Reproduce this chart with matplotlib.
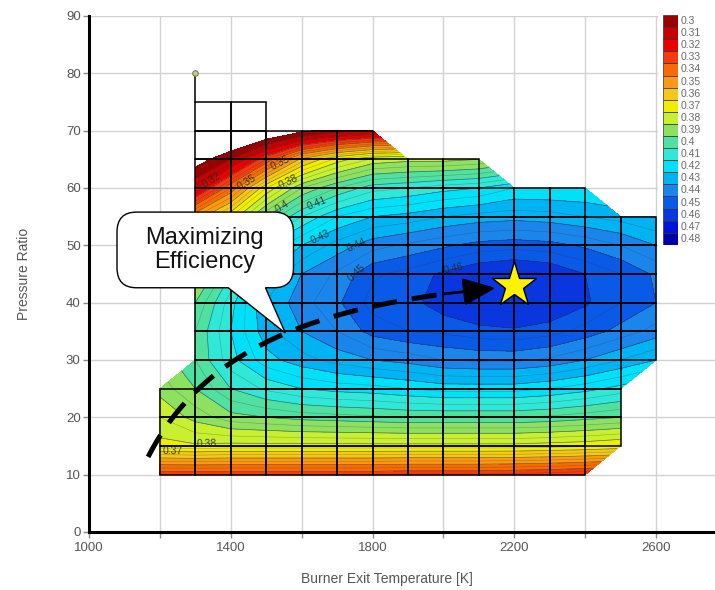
import numpy as np
import matplotlib
matplotlib.use("Agg")
import matplotlib.pyplot as plt
from matplotlib.path import Path
from matplotlib.patches import PathPatch, Rectangle

plt.rcParams['font.family'] = ['Liberation Sans', 'DejaVu Sans']

# ---- design space: burner exit temperature [K] x pressure ratio ----
temperature = [1200, 1300, 1400, 1500, 1600, 1700, 1800, 1900,
               2000, 2100, 2200, 2300, 2400, 2500, 2600]
pressure_ratio = [10, 15, 20, 25, 30, 35, 40, 45, 50, 55, 60, 65, 70, 75]

# cycle efficiency at each design point (None = point not evaluated)
eff_pr10 = [0.335, 0.335, 0.335, 0.335, 0.335, 0.335, 0.335, 0.334, 0.334, 0.334, 0.333, 0.332, 0.330, None, None]
eff_pr15 = [0.378, 0.379, 0.378, 0.378, 0.378, 0.378, 0.378, 0.378, 0.378, 0.378, 0.378, 0.377, 0.376, 0.374, None]
eff_pr20 = [0.385, 0.392, 0.398, 0.400, 0.402, 0.403, 0.404, 0.405, 0.405, 0.405, 0.405, 0.404, 0.402, 0.400, None]
eff_pr25 = [0.392, 0.400, 0.410, 0.416, 0.420, 0.422, 0.423, 0.425, 0.427, 0.427, 0.427, 0.425, 0.422, 0.418, None]
eff_pr30 = [None, 0.405, 0.418, 0.428, 0.433, 0.437, 0.440, 0.442, 0.445, 0.446, 0.446, 0.444, 0.440, 0.435, 0.430]
eff_pr35 = [None, 0.405, 0.420, 0.433, 0.440, 0.445, 0.452, 0.455, 0.456, 0.458, 0.459, 0.457, 0.453, 0.448, 0.443]
eff_pr40 = [None, 0.400, 0.418, 0.435, 0.443, 0.449, 0.457, 0.458, 0.463, 0.467, 0.468, 0.466, 0.461, 0.455, 0.450]
eff_pr45 = [None, 0.390, 0.410, 0.430, 0.440, 0.446, 0.454, 0.457, 0.461, 0.465, 0.467, 0.465, 0.460, 0.455, 0.449]
eff_pr50 = [None, 0.375, 0.395, 0.420, 0.430, 0.437, 0.443, 0.446, 0.449, 0.452, 0.453, 0.452, 0.449, 0.445, 0.440]
eff_pr55 = [None, 0.355, 0.375, 0.400, 0.415, 0.425, 0.430, 0.432, 0.435, 0.437, 0.438, 0.437, 0.435, 0.433, 0.430]
eff_pr60 = [None, 0.318, 0.345, 0.375, 0.395, 0.405, 0.413, 0.415, 0.418, 0.420, 0.425, 0.425, 0.425, None, None]
eff_pr65 = [None, 0.293, 0.310, 0.335, 0.362, 0.377, 0.386, 0.388, 0.388, 0.390, None, None, None, None, None]
eff_pr70 = [None, 0.260, 0.275, 0.285, 0.297, 0.305, 0.310, None, None, None, None, None, None, None, None]
eff_pr75 = [None, 0.230, 0.240, 0.250, None, None, None, None, None, None, None, None, None, None, None]

# single extra point of the sweep above the grid
probe_T, probe_PR = 1300, 80
# best design point
optimum_T, optimum_PR = 2200, 43

level_values = [0.30, 0.31, 0.32, 0.33, 0.34, 0.35, 0.36, 0.37, 0.38, 0.39,
                0.40, 0.41, 0.42, 0.43, 0.44, 0.45, 0.46, 0.47, 0.48]
level_colors = ['#9b0000', '#c80000', '#ee0000', '#f53a10', '#fb6a00', '#fb9a10',
                '#f5c818', '#f0ee00', '#c8f030', '#8ee060', '#50e0a0', '#30e8d8',
                '#00e0f8', '#00b4f4', '#1a86ec', '#0a5ae8', '#0a36e0', '#0014d8',
                '#0000a8']

rows = [eff_pr10, eff_pr15, eff_pr20, eff_pr25, eff_pr30, eff_pr35, eff_pr40,
        eff_pr45, eff_pr50, eff_pr55, eff_pr60, eff_pr65, eff_pr70, eff_pr75]
Z = np.ma.masked_invalid(np.array(rows, dtype=float))
TT, PP = np.meshgrid(temperature, pressure_ratio)

W, H = 715, 590
fig = plt.figure(figsize=(W / 100, H / 100), dpi=100)
ax = fig.add_axes([89 / W, 58 / H, (W - 89) / W, 516 / H])

xmin, xmax = 1000, 1000 + (W - 89) / (567 / 1600)
ax.set_xlim(xmin, xmax)
ax.set_ylim(0, 90)

# filled efficiency map
ax.contourf(TT, PP, Z, levels=level_values, colors=level_colors,
            extend='max', corner_mask=True, zorder=1)
fine_levels = np.round(np.arange(0.30, 0.48, 0.005), 3)
ax.contour(TT, PP, Z, levels=fine_levels, colors='#303030',
           linewidths=0.4, alpha=0.35, corner_mask=True, zorder=2)
cs = ax.contour(TT, PP, Z, levels=level_values, colors='#303030',
                linewidths=0.5, alpha=0.45, corner_mask=True, zorder=2)
label_spots = [(1350, 61), (1446, 61), (1540, 64.5), (1560, 61.5),
               (1548, 56.5), (1647, 56.5), (1653, 51.5), (1752, 50.4),
               (1757, 45), (2030, 45.7), (1237, 14.8), (1333, 15.2)]
labels = ax.clabel(cs, manual=label_spots, inline=False, fontsize=7.5,
                   colors='#262626', fmt=lambda v: f"{v:.2f}".rstrip('0'))
for lab in labels:
    lab.set_alpha(0.85)

# grid of evaluated cells
nT, nP = len(temperature), len(pressure_ratio)
for i in range(nT - 1):
    for j in range(nP - 1):
        corners = Z.mask[j, i], Z.mask[j, i + 1], Z.mask[j + 1, i], Z.mask[j + 1, i + 1]
        if not any(corners):
            ax.add_patch(Rectangle((temperature[i], pressure_ratio[j]),
                                   temperature[i + 1] - temperature[i],
                                   pressure_ratio[j + 1] - pressure_ratio[j],
                                   fill=False, ec='black', lw=1.1, zorder=3))
ax.plot([probe_T, probe_T], [pressure_ratio[-1], probe_PR], color='black', lw=1.1, zorder=3)
ax.plot([probe_T], [probe_PR], 'o', ms=4, mfc='#c9c98f', mec='#7a7a50', mew=0.8, zorder=4)

# axes styling
for side in ('top', 'right'):
    ax.spines[side].set_visible(False)
for side in ('left', 'bottom'):
    ax.spines[side].set_linewidth(2.2)
    ax.spines[side].set_color('black')
ax.set_xticks([1000, 1400, 1800, 2200, 2600])
ax.set_xticks([1200, 1600, 2000, 2400], minor=True)
ax.set_yticks(np.arange(0, 91, 10))
ax.tick_params(axis='both', which='both', colors='#8a8a8a', labelcolor='#555555',
               labelsize=9.5, length=4, width=1)
ax.tick_params(axis='x', pad=3)
ax.tick_params(axis='y', pad=2)
ax.grid(which='both', color='#d2d2d2', lw=1, zorder=0)
ax.set_axisbelow(True)
ax.set_xlabel('Burner Exit Temperature [K]', color='#555555', fontsize=10)
ax.xaxis.set_label_coords((387 - 89) / (W - 89), -0.0775)
ax.set_ylabel('Pressure Ratio', color='#555555', fontsize=10)
ax.yaxis.set_label_coords(-0.093, 0.5)

# callout box with pointer
x0, x1, y0, y1 = 1079, 1577, 42.6, 55.8
rx, ry = 55, 3.5
bx1, bx2 = 1393, 1498
tip = (1554, 34.7)
verts = [(x0 + rx, y1), (x1 - rx, y1), (x1, y1), (x1, y1 - ry), (x1, y0 + ry),
         (x1, y0), (x1 - rx, y0), (bx2, y0), tip, (bx1, y0), (x0 + rx, y0),
         (x0, y0), (x0, y0 + ry), (x0, y1 - ry), (x0, y1), (x0 + rx, y1), (x0 + rx, y1)]
codes = [Path.MOVETO, Path.LINETO, Path.CURVE3, Path.CURVE3, Path.LINETO,
         Path.CURVE3, Path.CURVE3, Path.LINETO, Path.LINETO, Path.LINETO, Path.LINETO,
         Path.CURVE3, Path.CURVE3, Path.LINETO, Path.CURVE3, Path.CURVE3, Path.CLOSEPOLY]
ax.add_patch(PathPatch(Path(verts, codes), fc='white', ec='black', lw=1.0, zorder=5))
ax.text(1327, 49.2, 'Maximizing\nEfficiency', ha='center', va='center',
        fontsize=17, color='#111111', linespacing=1.15, zorder=6)

# dashed trend arrow towards the optimum
P = np.array([[1166.8, 13.1], [1327.9, 32.6], [1653.0, 39.6], [2147.7, 42.56]])
t = np.linspace(0, 0.9, 200)[:, None]
curve = ((1 - t) ** 3 * P[0] + 3 * (1 - t) ** 2 * t * P[1]
         + 3 * (1 - t) * t ** 2 * P[2] + t ** 3 * P[3])
ax.plot(curve[:, 0], curve[:, 1], color='black', lw=3.6, dashes=(5, 3),
        solid_capstyle='butt', dash_capstyle='butt', zorder=6)
ax.annotate('', xy=tuple(P[3]), xytext=tuple(curve[-1]),
            arrowprops=dict(arrowstyle='-|>,head_length=1.0,head_width=0.42',
                            mutation_scale=20, color='black', lw=2,
                            shrinkA=0, shrinkB=0), zorder=6)
ax.plot([optimum_T], [optimum_PR], marker='*', ms=34, mfc='#fff200',
        mec='black', mew=1.0, zorder=7)

# discrete colour legend
fig.patches.append(Rectangle((658 / W, 1 - 252 / H), (W - 658) / W, 240 / H,
                             transform=fig.transFigure, fc='white', ec='none', zorder=1))
top_px, step_px = 15, 12.1
cax = fig.add_axes([663 / W, 1 - (top_px + step_px * len(level_values)) / H,
                    15 / W, step_px * len(level_values) / H])
cax.set_zorder(5)
n = len(level_values)
for k, (val, col) in enumerate(zip(level_values, level_colors)):
    cax.add_patch(Rectangle((0, n - 1 - k), 1, 1, fc=col, ec='#303030', lw=0.5))
    fig.text(681 / W, 1 - (top_px + step_px * (k + 0.5)) / H,
             f"{val:.2f}".rstrip('0'), fontsize=7.5, color='#6a6a6a',
             va='center', ha='left', zorder=6)
cax.set_xlim(0, 1)
cax.set_ylim(0, n)
cax.axis('off')

fig.savefig('out.png', dpi=100)
